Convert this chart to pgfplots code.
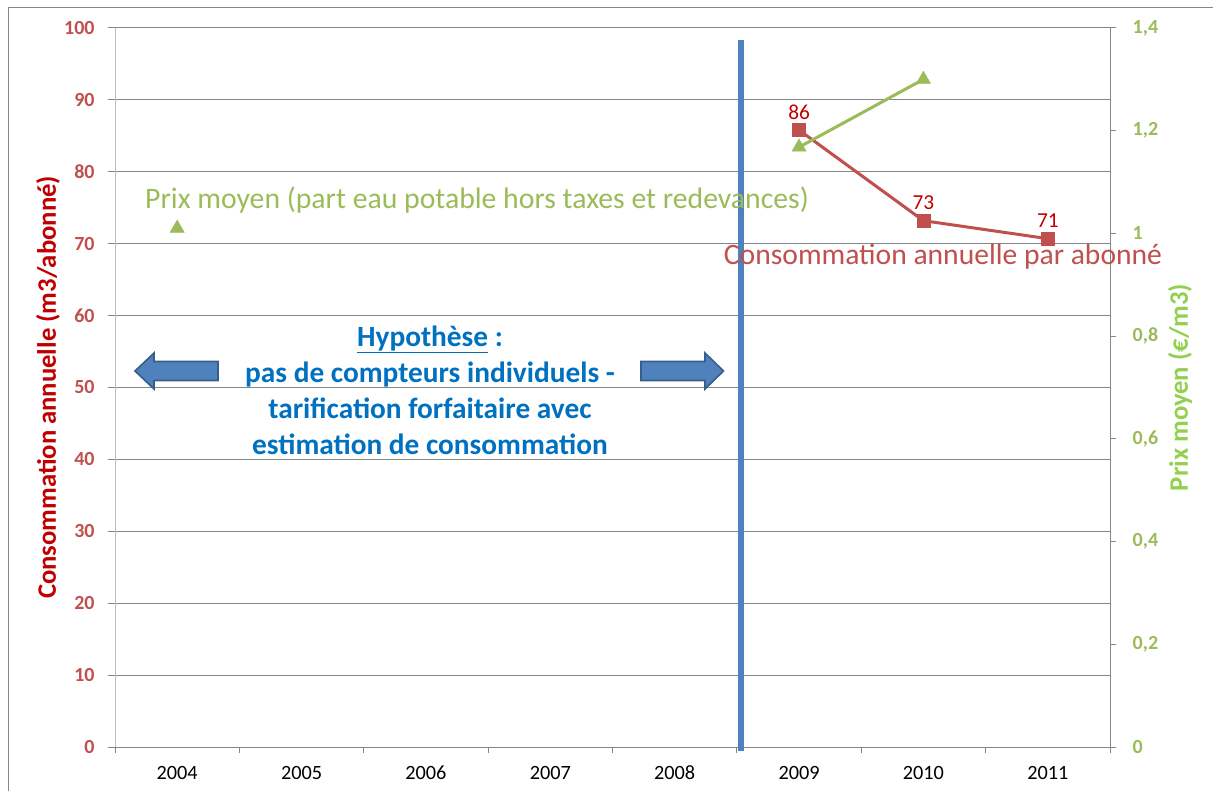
\documentclass[border=0pt]{standalone}
\usepackage{fontspec}
\setmainfont{Carlito}
\usepackage{pgfplots}
\pgfplotsset{compat=1.18}
\definecolor{gridgray}{HTML}{868686}
\definecolor{lightax}{HTML}{BFBFBF}
\definecolor{redtick}{HTML}{C0504D}
\definecolor{redtitle}{HTML}{C00000}
\definecolor{greentick}{HTML}{9BBB59}
\definecolor{greentitle}{HTML}{92D050}
\definecolor{blueline}{HTML}{4F81BD}
\definecolor{blueborder}{HTML}{385D8A}
\definecolor{bluetext}{HTML}{0070C0}
\begin{document}
\begin{tikzpicture}
\begin{scope}[x=0.75pt,y=-0.75pt]
\useasboundingbox (0,0) rectangle (1213,791);
\draw[gridgray, line width=0.75pt] (8.3,791) -- (8.3,7.3) -- (1213,7.3);
\end{scope}
% left axis
\begin{axis}[
  at={(86.25pt,-560.25pt)}, anchor=south west, scale only axis,
  width=746.25pt, height=539.25pt,
  xmin=-0.5, xmax=7.5, ymin=0, ymax=100,
  axis x line*=bottom, axis y line*=left,
  x axis line style={draw=gridgray, line width=0.75pt},
  y axis line style={draw=lightax, line width=0.75pt},
  xtick={0,1,2,3,4,5,6,7},
  xticklabels={2004,2005,2006,2007,2008,2009,2010,2011},
  major x tick style={draw=none},
  minor xtick={-0.5,0.5,1.5,2.5,3.5,4.5,5.5,6.5,7.5},
  minor x tick style={draw=gridgray, line width=0.75pt},
  minor tick length=4.5pt,
  ytick={0,10,...,100},
  ymajorgrids,
  major grid style={draw=gridgray, line width=0.75pt},
  major y tick style={draw=gridgray, line width=0.75pt},
  tick align=outside, major tick length=5.25pt,
  /pgf/number format/assume math mode=true,
  xticklabel style={font=\fontsize{15.2}{17}\selectfont, text=black, anchor=center, yshift=-14pt},
  yticklabel style={font=\bfseries\fontsize{15}{17}\selectfont, text=redtick, xshift=-6.5pt},
  ylabel={Consommation annuelle (m3/abonné)},
  ylabel style={at={(axis description cs:-0.0673,0.5)}, anchor=center, font=\bfseries\fontsize{20}{23}\selectfont, text=redtitle},
  clip=false,
]
\addplot[color=redtick, line width=2.25pt, mark=square*, mark size=4.9pt,
  mark options={fill=redtick, draw=redtick, line width=0.5pt},
  nodes near coords, point meta=explicit symbolic,
  every node near coord/.style={font=\fontsize{16}{18}\selectfont, text=redtitle, anchor=center, yshift=13.5pt}]
  coordinates {(5,85.8) [86] (6,73.2) [73] (7,70.7) [71]};
\end{axis}
% right axis
\begin{axis}[
  at={(86.25pt,-560.25pt)}, anchor=south west, scale only axis,
  width=746.25pt, height=539.25pt,
  xmin=-0.5, xmax=7.5, ymin=0, ymax=1.4,
  axis x line=none, axis y line*=right,
  y axis line style={draw=gridgray, line width=0.75pt},
  ytick={0,0.2,0.4,0.6,0.8,1,1.2,1.4},
  yticklabels={0,{0,2},{0,4},{0,6},{0,8},1,{1,2},{1,4}},
  major y tick style={draw=gridgray, line width=0.75pt},
  tick align=outside, major tick length=4.5pt,
  yticklabel style={font=\bfseries\fontsize{15}{17}\selectfont, text=greentick, xshift=9pt},
  ylabel={Prix moyen (€/m3)},
  ylabel style={at={(axis description cs:1.0704,0.5)}, anchor=center, rotate=0, font=\bfseries\fontsize{20}{23}\selectfont, text=greentitle},
  unbounded coords=jump,
  clip=false,
]
\addplot[color=greentick, line width=2.25pt, mark=triangle*, mark size=6pt,
  mark options={fill=greentick, draw=greentick, line width=0.5pt}]
  coordinates {(0,1.01) (4,nan) (5,1.168) (6,1.30)};
\end{axis}
\begin{scope}[x=0.75pt,y=-0.75pt]
\draw[blueline, line width=4.5pt] (740.5,40) -- (740.5,751);
\filldraw[fill=blueline, draw=blueborder, line width=1.2pt]
  (135,371) -- (154,353) -- (154,361.5) -- (218,361.5) -- (218,380.5) -- (154,380.5) -- (154,389) -- cycle;
\filldraw[fill=blueline, draw=blueborder, line width=1.2pt]
  (723.5,371) -- (705,353) -- (705,361.5) -- (641,361.5) -- (641,380.5) -- (705,380.5) -- (705,389) -- cycle;
\node[text=greentick, font=\fontsize{22.3}{25}\selectfont, anchor=center] at (477,200) {Prix moyen (part eau potable hors taxes et redevances)};
\node[text=redtick, font=\fontsize{22.2}{25}\selectfont, anchor=center, inner sep=1pt] at (943,256.5) {Consommation annuelle par abonné};
\node[text=bluetext, font=\bfseries\fontsize{22}{27}\selectfont, align=center, anchor=center] at (430,390)
  {\underline{Hypothèse} :\\ pas de compteurs individuels -\\ tarification forfaitaire avec\\ estimation de consommation};
\end{scope}
\end{tikzpicture}
\end{document}
